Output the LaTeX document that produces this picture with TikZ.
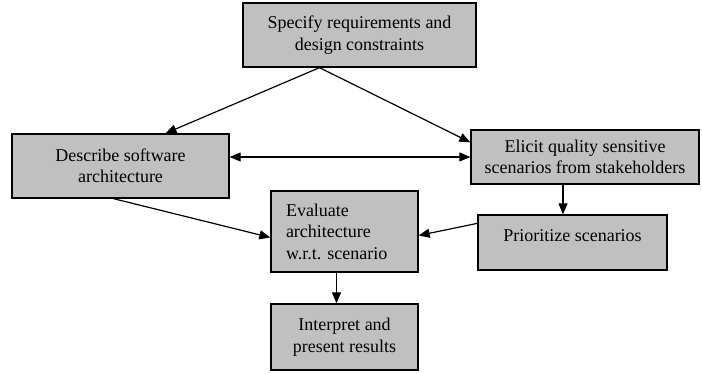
\documentclass[tikz,border=0pt]{standalone}
\usepackage{fontspec}
\setmainfont{Liberation Serif}
\usetikzlibrary{calc,arrows.meta}
\definecolor{boxgray}{RGB}{192,192,192}

\tikzset{
  stepbox/.style={draw, line width=1.3pt, fill=boxgray, inner sep=0pt,
    font=\fontsize{18}{21.5}\selectfont, align=center},
  flow/.style={line width=1.2pt, -{Triangle[length=11pt,width=9pt]}},
  flowboth/.style={line width=1.2pt, {Triangle[length=11pt,width=9pt]}-{Triangle[length=11pt,width=9pt]}}
}

\begin{document}
\frenchspacing
\begin{tikzpicture}[x=1pt,y=-1pt]
  \useasboundingbox (0,0) rectangle (702,374);

  \node[stepbox, minimum width=233pt, minimum height=64pt] (spec) at (359.5,35)
    {Specify requirements and\\design constraints};
  \node[stepbox, minimum width=217pt, minimum height=64pt] (desc) at (120.5,166)
    {Describe software\\architecture};
  \node[stepbox, minimum width=228pt, minimum height=54pt] (elicit) at (585,157)
    {Elicit quality sensitive\\scenarios from stakeholders};
  \node[stepbox, minimum width=189pt, minimum height=55pt, text depth=14pt] (prio) at (572.5,242.5)
    {Prioritize scenarios};
  \node[stepbox, minimum width=147pt, minimum height=81pt, text width=117pt, align=left] (eval) at (344.5,231.5)
    {Evaluate\\architecture\\w.r.t.\ scenario};
  \node[stepbox, minimum width=147pt, minimum height=66pt] (interp) at (344.5,337)
    {Interpret and\\present results};

  % connectors
  \coordinate (split) at ($(spec.south)+(-40,0)$);
  \draw[flow] (split) -- ($(desc.north)+(45,0)$);
  \draw[flow] (split) -- ($(elicit.north west)+(0,13)$);
  \draw[flowboth] (desc.east |- elicit.west) -- (elicit.west);
  \coordinate (eldown) at ($(elicit.south)+(-22,0)$);
  \draw[flow] (eldown) -- (eldown |- prio.north);
  \draw[flow] ($(desc.south)+(-7,0)$) -- ($(eval.west)+(0,6)$);
  \draw[flow] ($(prio.north west)+(0,9)$) -- ($(eval.east)+(0,4)$);
  \coordinate (evdown) at ($(eval.south)+(-8,0)$);
  \draw[flow] (evdown) -- (evdown |- interp.north);
\end{tikzpicture}
\end{document}
